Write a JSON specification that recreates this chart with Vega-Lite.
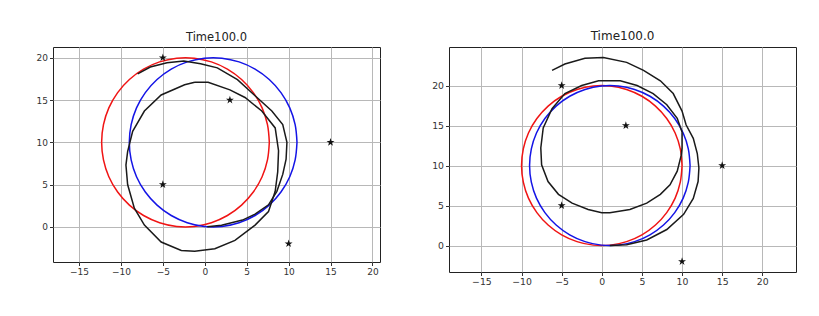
{
  "$schema": "https://vega.github.io/schema/vega-lite/v6.json",
  "padding": {"left": 35, "top": 29, "right": 0, "bottom": 0},
  "background": "white",
  "config": {
    "view": {"stroke": "#222", "strokeWidth": 1},
    "axis": {"grid": true, "gridColor": "#b8b8b8", "gridWidth": 1, "domain": false, "tickColor": "#333", "tickSize": 3.5, "labelColor": "#333", "labelFont": "DejaVu Sans", "labelFontSize": 9, "labelPadding": 2, "title": null},
    "title": {"font": "DejaVu Sans", "fontSize": 11.5, "fontWeight": "normal", "color": "#222", "offset": 4},
    "concat": {"spacing": 50}
  },
  "datasets": {
    "stars": [
      {"x": -5, "y": 20}, {"x": 3, "y": 15}, {"x": 15, "y": 10}, {"x": -5, "y": 5}, {"x": 10, "y": -2}
    ],
    "left": [
      {"s": "red", "i": 0, "x": 7.7, "y": 10}, {"s": "red", "i": 1, "x": 7.48, "y": 12.08}, {"s": "red", "i": 2, "x": 6.84, "y": 14.07}, {"s": "red", "i": 3, "x": 5.79, "y": 15.88}, {"s": "red", "i": 4, "x": 4.39, "y": 17.43}, {"s": "red", "i": 5, "x": 2.7, "y": 18.66}, {"s": "red", "i": 6, "x": 0.79, "y": 19.51}, {"s": "red", "i": 7, "x": -1.25, "y": 19.95}, {"s": "red", "i": 8, "x": -3.35, "y": 19.95}, {"s": "red", "i": 9, "x": -5.39, "y": 19.51}, {"s": "red", "i": 10, "x": -7.3, "y": 18.66}, {"s": "red", "i": 11, "x": -8.99, "y": 17.43}, {"s": "red", "i": 12, "x": -10.39, "y": 15.88}, {"s": "red", "i": 13, "x": -11.44, "y": 14.07}, {"s": "red", "i": 14, "x": -12.08, "y": 12.08}, {"s": "red", "i": 15, "x": -12.3, "y": 10}, {"s": "red", "i": 16, "x": -12.08, "y": 7.92}, {"s": "red", "i": 17, "x": -11.44, "y": 5.93}, {"s": "red", "i": 18, "x": -10.39, "y": 4.12}, {"s": "red", "i": 19, "x": -8.99, "y": 2.57}, {"s": "red", "i": 20, "x": -7.3, "y": 1.34}, {"s": "red", "i": 21, "x": -5.39, "y": 0.49}, {"s": "red", "i": 22, "x": -3.35, "y": 0.05}, {"s": "red", "i": 23, "x": -1.25, "y": 0.05}, {"s": "red", "i": 24, "x": 0.79, "y": 0.49}, {"s": "red", "i": 25, "x": 2.7, "y": 1.34}, {"s": "red", "i": 26, "x": 4.39, "y": 2.57}, {"s": "red", "i": 27, "x": 5.79, "y": 4.12}, {"s": "red", "i": 28, "x": 6.84, "y": 5.93}, {"s": "red", "i": 29, "x": 7.48, "y": 7.92}, {"s": "red", "i": 30, "x": 7.7, "y": 10},
      {"s": "blue", "i": 0, "x": 11, "y": 10}, {"s": "blue", "i": 1, "x": 10.78, "y": 12.08}, {"s": "blue", "i": 2, "x": 10.14, "y": 14.07}, {"s": "blue", "i": 3, "x": 9.09, "y": 15.88}, {"s": "blue", "i": 4, "x": 7.69, "y": 17.43}, {"s": "blue", "i": 5, "x": 6, "y": 18.66}, {"s": "blue", "i": 6, "x": 4.09, "y": 19.51}, {"s": "blue", "i": 7, "x": 2.05, "y": 19.95}, {"s": "blue", "i": 8, "x": -0.05, "y": 19.95}, {"s": "blue", "i": 9, "x": -2.09, "y": 19.51}, {"s": "blue", "i": 10, "x": -4, "y": 18.66}, {"s": "blue", "i": 11, "x": -5.69, "y": 17.43}, {"s": "blue", "i": 12, "x": -7.09, "y": 15.88}, {"s": "blue", "i": 13, "x": -8.14, "y": 14.07}, {"s": "blue", "i": 14, "x": -8.78, "y": 12.08}, {"s": "blue", "i": 15, "x": -9, "y": 10}, {"s": "blue", "i": 16, "x": -8.78, "y": 7.92}, {"s": "blue", "i": 17, "x": -8.14, "y": 5.93}, {"s": "blue", "i": 18, "x": -7.09, "y": 4.12}, {"s": "blue", "i": 19, "x": -5.69, "y": 2.57}, {"s": "blue", "i": 20, "x": -4, "y": 1.34}, {"s": "blue", "i": 21, "x": -2.09, "y": 0.49}, {"s": "blue", "i": 22, "x": -0.05, "y": 0.05}, {"s": "blue", "i": 23, "x": 2.05, "y": 0.05}, {"s": "blue", "i": 24, "x": 4.09, "y": 0.49}, {"s": "blue", "i": 25, "x": 6, "y": 1.34}, {"s": "blue", "i": 26, "x": 7.69, "y": 2.57}, {"s": "blue", "i": 27, "x": 9.09, "y": 4.12}, {"s": "blue", "i": 28, "x": 10.14, "y": 5.93}, {"s": "blue", "i": 29, "x": 10.78, "y": 7.92}, {"s": "blue", "i": 30, "x": 11, "y": 10},
      {"s": "arc", "i": 0, "x": -8.0, "y": 18.1}, {"s": "arc", "i": 1, "x": -6.5, "y": 18.9}, {"s": "arc", "i": 2, "x": -4.5, "y": 19.4}, {"s": "arc", "i": 3, "x": -2.5, "y": 19.6}, {"s": "arc", "i": 4, "x": -0.5, "y": 19.3}, {"s": "arc", "i": 5, "x": 1.5, "y": 18.8}, {"s": "arc", "i": 6, "x": 3.9, "y": 17.4}, {"s": "arc", "i": 7, "x": 6.0, "y": 15.5}, {"s": "arc", "i": 8, "x": 8.0, "y": 13.7}, {"s": "arc", "i": 9, "x": 9.3, "y": 12.1}, {"s": "arc", "i": 10, "x": 9.8, "y": 10.0}, {"s": "arc", "i": 11, "x": 9.7, "y": 8.0}, {"s": "arc", "i": 12, "x": 9.3, "y": 6.2}, {"s": "arc", "i": 13, "x": 8.6, "y": 4.2}, {"s": "arc", "i": 14, "x": 7.6, "y": 2.6}, {"s": "arc", "i": 15, "x": 6.0, "y": 1.5}, {"s": "arc", "i": 16, "x": 4.5, "y": 0.8}, {"s": "arc", "i": 17, "x": 2.0, "y": 0.2}, {"s": "arc", "i": 18, "x": 0.3, "y": 0.0},
      {"s": "loop", "i": 0, "x": -1.2, "y": 17.1}, {"s": "loop", "i": 1, "x": 0.4, "y": 17.1}, {"s": "loop", "i": 2, "x": 3.0, "y": 16.2}, {"s": "loop", "i": 3, "x": 4.8, "y": 15.3}, {"s": "loop", "i": 4, "x": 6.8, "y": 13.7}, {"s": "loop", "i": 5, "x": 8.4, "y": 11.7}, {"s": "loop", "i": 6, "x": 8.8, "y": 9.0}, {"s": "loop", "i": 7, "x": 8.7, "y": 6.5}, {"s": "loop", "i": 8, "x": 8.4, "y": 4.2}, {"s": "loop", "i": 9, "x": 7.6, "y": 1.8}, {"s": "loop", "i": 10, "x": 6.0, "y": 0.2}, {"s": "loop", "i": 11, "x": 3.6, "y": -1.6}, {"s": "loop", "i": 12, "x": 1.2, "y": -2.6}, {"s": "loop", "i": 13, "x": -1.2, "y": -2.9}, {"s": "loop", "i": 14, "x": -2.8, "y": -2.8}, {"s": "loop", "i": 15, "x": -5.2, "y": -1.8}, {"s": "loop", "i": 16, "x": -7.2, "y": 0.2}, {"s": "loop", "i": 17, "x": -8.4, "y": 2.2}, {"s": "loop", "i": 18, "x": -9.2, "y": 5.0}, {"s": "loop", "i": 19, "x": -9.4, "y": 7.3}, {"s": "loop", "i": 20, "x": -9.2, "y": 8.9}, {"s": "loop", "i": 21, "x": -8.6, "y": 11.3}, {"s": "loop", "i": 22, "x": -7.2, "y": 13.7}, {"s": "loop", "i": 23, "x": -5.2, "y": 15.6}, {"s": "loop", "i": 24, "x": -2.4, "y": 16.8}, {"s": "loop", "i": 25, "x": -1.2, "y": 17.1}
    ],
    "right": [
      {"s": "red", "i": 0, "x": 10, "y": 10}, {"s": "red", "i": 1, "x": 9.78, "y": 12.08}, {"s": "red", "i": 2, "x": 9.14, "y": 14.07}, {"s": "red", "i": 3, "x": 8.09, "y": 15.88}, {"s": "red", "i": 4, "x": 6.69, "y": 17.43}, {"s": "red", "i": 5, "x": 5, "y": 18.66}, {"s": "red", "i": 6, "x": 3.09, "y": 19.51}, {"s": "red", "i": 7, "x": 1.05, "y": 19.95}, {"s": "red", "i": 8, "x": -1.05, "y": 19.95}, {"s": "red", "i": 9, "x": -3.09, "y": 19.51}, {"s": "red", "i": 10, "x": -5, "y": 18.66}, {"s": "red", "i": 11, "x": -6.69, "y": 17.43}, {"s": "red", "i": 12, "x": -8.09, "y": 15.88}, {"s": "red", "i": 13, "x": -9.14, "y": 14.07}, {"s": "red", "i": 14, "x": -9.78, "y": 12.08}, {"s": "red", "i": 15, "x": -10, "y": 10}, {"s": "red", "i": 16, "x": -9.78, "y": 7.92}, {"s": "red", "i": 17, "x": -9.14, "y": 5.93}, {"s": "red", "i": 18, "x": -8.09, "y": 4.12}, {"s": "red", "i": 19, "x": -6.69, "y": 2.57}, {"s": "red", "i": 20, "x": -5, "y": 1.34}, {"s": "red", "i": 21, "x": -3.09, "y": 0.49}, {"s": "red", "i": 22, "x": -1.05, "y": 0.05}, {"s": "red", "i": 23, "x": 1.05, "y": 0.05}, {"s": "red", "i": 24, "x": 3.09, "y": 0.49}, {"s": "red", "i": 25, "x": 5, "y": 1.34}, {"s": "red", "i": 26, "x": 6.69, "y": 2.57}, {"s": "red", "i": 27, "x": 8.09, "y": 4.12}, {"s": "red", "i": 28, "x": 9.14, "y": 5.93}, {"s": "red", "i": 29, "x": 9.78, "y": 7.92}, {"s": "red", "i": 30, "x": 10, "y": 10},
      {"s": "blue", "i": 0, "x": 11, "y": 10}, {"s": "blue", "i": 1, "x": 10.78, "y": 12.08}, {"s": "blue", "i": 2, "x": 10.14, "y": 14.07}, {"s": "blue", "i": 3, "x": 9.09, "y": 15.88}, {"s": "blue", "i": 4, "x": 7.69, "y": 17.43}, {"s": "blue", "i": 5, "x": 6, "y": 18.66}, {"s": "blue", "i": 6, "x": 4.09, "y": 19.51}, {"s": "blue", "i": 7, "x": 2.05, "y": 19.95}, {"s": "blue", "i": 8, "x": -0.05, "y": 19.95}, {"s": "blue", "i": 9, "x": -2.09, "y": 19.51}, {"s": "blue", "i": 10, "x": -4, "y": 18.66}, {"s": "blue", "i": 11, "x": -5.69, "y": 17.43}, {"s": "blue", "i": 12, "x": -7.09, "y": 15.88}, {"s": "blue", "i": 13, "x": -8.14, "y": 14.07}, {"s": "blue", "i": 14, "x": -8.78, "y": 12.08}, {"s": "blue", "i": 15, "x": -9, "y": 10}, {"s": "blue", "i": 16, "x": -8.78, "y": 7.92}, {"s": "blue", "i": 17, "x": -8.14, "y": 5.93}, {"s": "blue", "i": 18, "x": -7.09, "y": 4.12}, {"s": "blue", "i": 19, "x": -5.69, "y": 2.57}, {"s": "blue", "i": 20, "x": -4, "y": 1.34}, {"s": "blue", "i": 21, "x": -2.09, "y": 0.49}, {"s": "blue", "i": 22, "x": -0.05, "y": 0.05}, {"s": "blue", "i": 23, "x": 2.05, "y": 0.05}, {"s": "blue", "i": 24, "x": 4.09, "y": 0.49}, {"s": "blue", "i": 25, "x": 6, "y": 1.34}, {"s": "blue", "i": 26, "x": 7.69, "y": 2.57}, {"s": "blue", "i": 27, "x": 9.09, "y": 4.12}, {"s": "blue", "i": 28, "x": 10.14, "y": 5.93}, {"s": "blue", "i": 29, "x": 10.78, "y": 7.92}, {"s": "blue", "i": 30, "x": 11, "y": 10},
      {"s": "arc", "i": 0, "x": -6.2, "y": 21.9}, {"s": "arc", "i": 1, "x": -4.6, "y": 22.7}, {"s": "arc", "i": 2, "x": -2.1, "y": 23.4}, {"s": "arc", "i": 3, "x": 0.2, "y": 23.5}, {"s": "arc", "i": 4, "x": 3.1, "y": 22.9}, {"s": "arc", "i": 5, "x": 5.2, "y": 21.9}, {"s": "arc", "i": 6, "x": 7.3, "y": 20.6}, {"s": "arc", "i": 7, "x": 8.9, "y": 19.0}, {"s": "arc", "i": 8, "x": 10.0, "y": 16.8}, {"s": "arc", "i": 9, "x": 10.5, "y": 15.1}, {"s": "arc", "i": 10, "x": 11.4, "y": 13.4}, {"s": "arc", "i": 11, "x": 11.9, "y": 11.5}, {"s": "arc", "i": 12, "x": 12.1, "y": 9.7}, {"s": "arc", "i": 13, "x": 12.0, "y": 8.0}, {"s": "arc", "i": 14, "x": 11.4, "y": 5.9}, {"s": "arc", "i": 15, "x": 10.2, "y": 3.9}, {"s": "arc", "i": 16, "x": 8.1, "y": 2.0}, {"s": "arc", "i": 17, "x": 5.6, "y": 0.7}, {"s": "arc", "i": 18, "x": 3.1, "y": 0.1}, {"s": "arc", "i": 19, "x": 1.0, "y": 0.0},
      {"s": "loop", "i": 0, "x": 1.0, "y": 20.6}, {"s": "loop", "i": 1, "x": 2.3, "y": 20.6}, {"s": "loop", "i": 2, "x": 4.4, "y": 20.0}, {"s": "loop", "i": 3, "x": 6.4, "y": 19.0}, {"s": "loop", "i": 4, "x": 8.1, "y": 17.6}, {"s": "loop", "i": 5, "x": 9.4, "y": 15.9}, {"s": "loop", "i": 6, "x": 10.0, "y": 14.2}, {"s": "loop", "i": 7, "x": 10.0, "y": 12.2}, {"s": "loop", "i": 8, "x": 9.9, "y": 11.3}, {"s": "loop", "i": 9, "x": 9.4, "y": 9.3}, {"s": "loop", "i": 10, "x": 8.5, "y": 7.6}, {"s": "loop", "i": 11, "x": 7.3, "y": 6.4}, {"s": "loop", "i": 12, "x": 5.6, "y": 5.3}, {"s": "loop", "i": 13, "x": 3.5, "y": 4.5}, {"s": "loop", "i": 14, "x": 1.0, "y": 4.1}, {"s": "loop", "i": 15, "x": 0.0, "y": 4.1}, {"s": "loop", "i": 16, "x": -1.7, "y": 4.5}, {"s": "loop", "i": 17, "x": -3.7, "y": 5.3}, {"s": "loop", "i": 18, "x": -5.4, "y": 6.4}, {"s": "loop", "i": 19, "x": -6.7, "y": 8.0}, {"s": "loop", "i": 20, "x": -7.5, "y": 10.1}, {"s": "loop", "i": 21, "x": -7.6, "y": 12.2}, {"s": "loop", "i": 22, "x": -7.3, "y": 14.7}, {"s": "loop", "i": 23, "x": -6.2, "y": 17.1}, {"s": "loop", "i": 24, "x": -4.6, "y": 19.0}, {"s": "loop", "i": 25, "x": -2.5, "y": 20.0}, {"s": "loop", "i": 26, "x": -0.4, "y": 20.6}, {"s": "loop", "i": 27, "x": 1.0, "y": 20.6}
    ]
  },
  "hconcat": [
    {
      "width": 327,
      "height": 215,
      "title": "Time100.0",
      "layer": [
        {
          "data": {"name": "left"},
          "transform": [{"filter": "datum.s === 'red' || datum.s === 'blue'"}],
          "mark": {"type": "line", "strokeWidth": 1.5, "interpolate": "catmull-rom", "clip": true},
          "encoding": {
            "x": {"field": "x", "type": "quantitative", "scale": {"domain": [-18.1, 20.9], "nice": false, "zero": false}, "axis": {"values": [-15, -10, -5, 0, 5, 10, 15, 20]}},
            "y": {"field": "y", "type": "quantitative", "scale": {"domain": [-4.16, 21.27], "nice": false, "zero": false}, "axis": {"values": [0, 5, 10, 15, 20]}},
            "color": {"field": "s", "type": "nominal", "scale": {"domain": ["red", "blue", "arc", "loop"], "range": ["#f01414", "#1414e6", "#1a1a1a", "#1a1a1a"]}, "legend": null},
            "order": {"field": "i", "type": "quantitative"}
          }
        },
        {
          "data": {"name": "left"},
          "transform": [{"filter": "datum.s === 'arc' || datum.s === 'loop'"}],
          "mark": {"type": "line", "strokeWidth": 1.5, "clip": true},
          "encoding": {
            "x": {"field": "x", "type": "quantitative"},
            "y": {"field": "y", "type": "quantitative"},
            "color": {"field": "s", "type": "nominal", "legend": null},
            "order": {"field": "i", "type": "quantitative"}
          }
        },
        {
          "data": {"name": "stars"},
          "mark": {"type": "point", "shape": "M0,-1L0.2245,-0.309L0.9511,-0.309L0.3633,0.118L0.5878,0.809L0,0.382L-0.5878,0.809L-0.3633,0.118L-0.9511,-0.309L-0.2245,-0.309Z", "filled": true, "color": "#111", "opacity": 1, "size": 70},
          "encoding": {
            "x": {"field": "x", "type": "quantitative"},
            "y": {"field": "y", "type": "quantitative"}
          }
        }
      ]
    },
    {
      "width": 347,
      "height": 225,
      "title": {"text": "Time100.0", "fontSize": 12},
      "layer": [
        {
          "data": {"name": "right"},
          "transform": [{"filter": "datum.s === 'red' || datum.s === 'blue'"}],
          "mark": {"type": "line", "strokeWidth": 1.5, "interpolate": "catmull-rom", "clip": true},
          "encoding": {
            "x": {"field": "x", "type": "quantitative", "scale": {"domain": [-19.04, 24.2], "nice": false, "zero": false}, "axis": {"values": [-15, -10, -5, 0, 5, 10, 15, 20], "labelFontSize": 9.3}},
            "y": {"field": "y", "type": "quantitative", "scale": {"domain": [-3.31, 24.82], "nice": false, "zero": false}, "axis": {"values": [0, 5, 10, 15, 20], "labelFontSize": 9.3}},
            "color": {"field": "s", "type": "nominal", "scale": {"domain": ["red", "blue", "arc", "loop"], "range": ["#f01414", "#1414e6", "#1a1a1a", "#1a1a1a"]}, "legend": null},
            "order": {"field": "i", "type": "quantitative"}
          }
        },
        {
          "data": {"name": "right"},
          "transform": [{"filter": "datum.s === 'arc' || datum.s === 'loop'"}],
          "mark": {"type": "line", "strokeWidth": 1.5, "clip": true},
          "encoding": {
            "x": {"field": "x", "type": "quantitative"},
            "y": {"field": "y", "type": "quantitative"},
            "color": {"field": "s", "type": "nominal", "legend": null},
            "order": {"field": "i", "type": "quantitative"}
          }
        },
        {
          "data": {"name": "stars"},
          "mark": {"type": "point", "shape": "M0,-1L0.2245,-0.309L0.9511,-0.309L0.3633,0.118L0.5878,0.809L0,0.382L-0.5878,0.809L-0.3633,0.118L-0.9511,-0.309L-0.2245,-0.309Z", "filled": true, "color": "#111", "opacity": 1, "size": 70},
          "encoding": {
            "x": {"field": "x", "type": "quantitative"},
            "y": {"field": "y", "type": "quantitative"}
          }
        }
      ]
    }
  ]
}
